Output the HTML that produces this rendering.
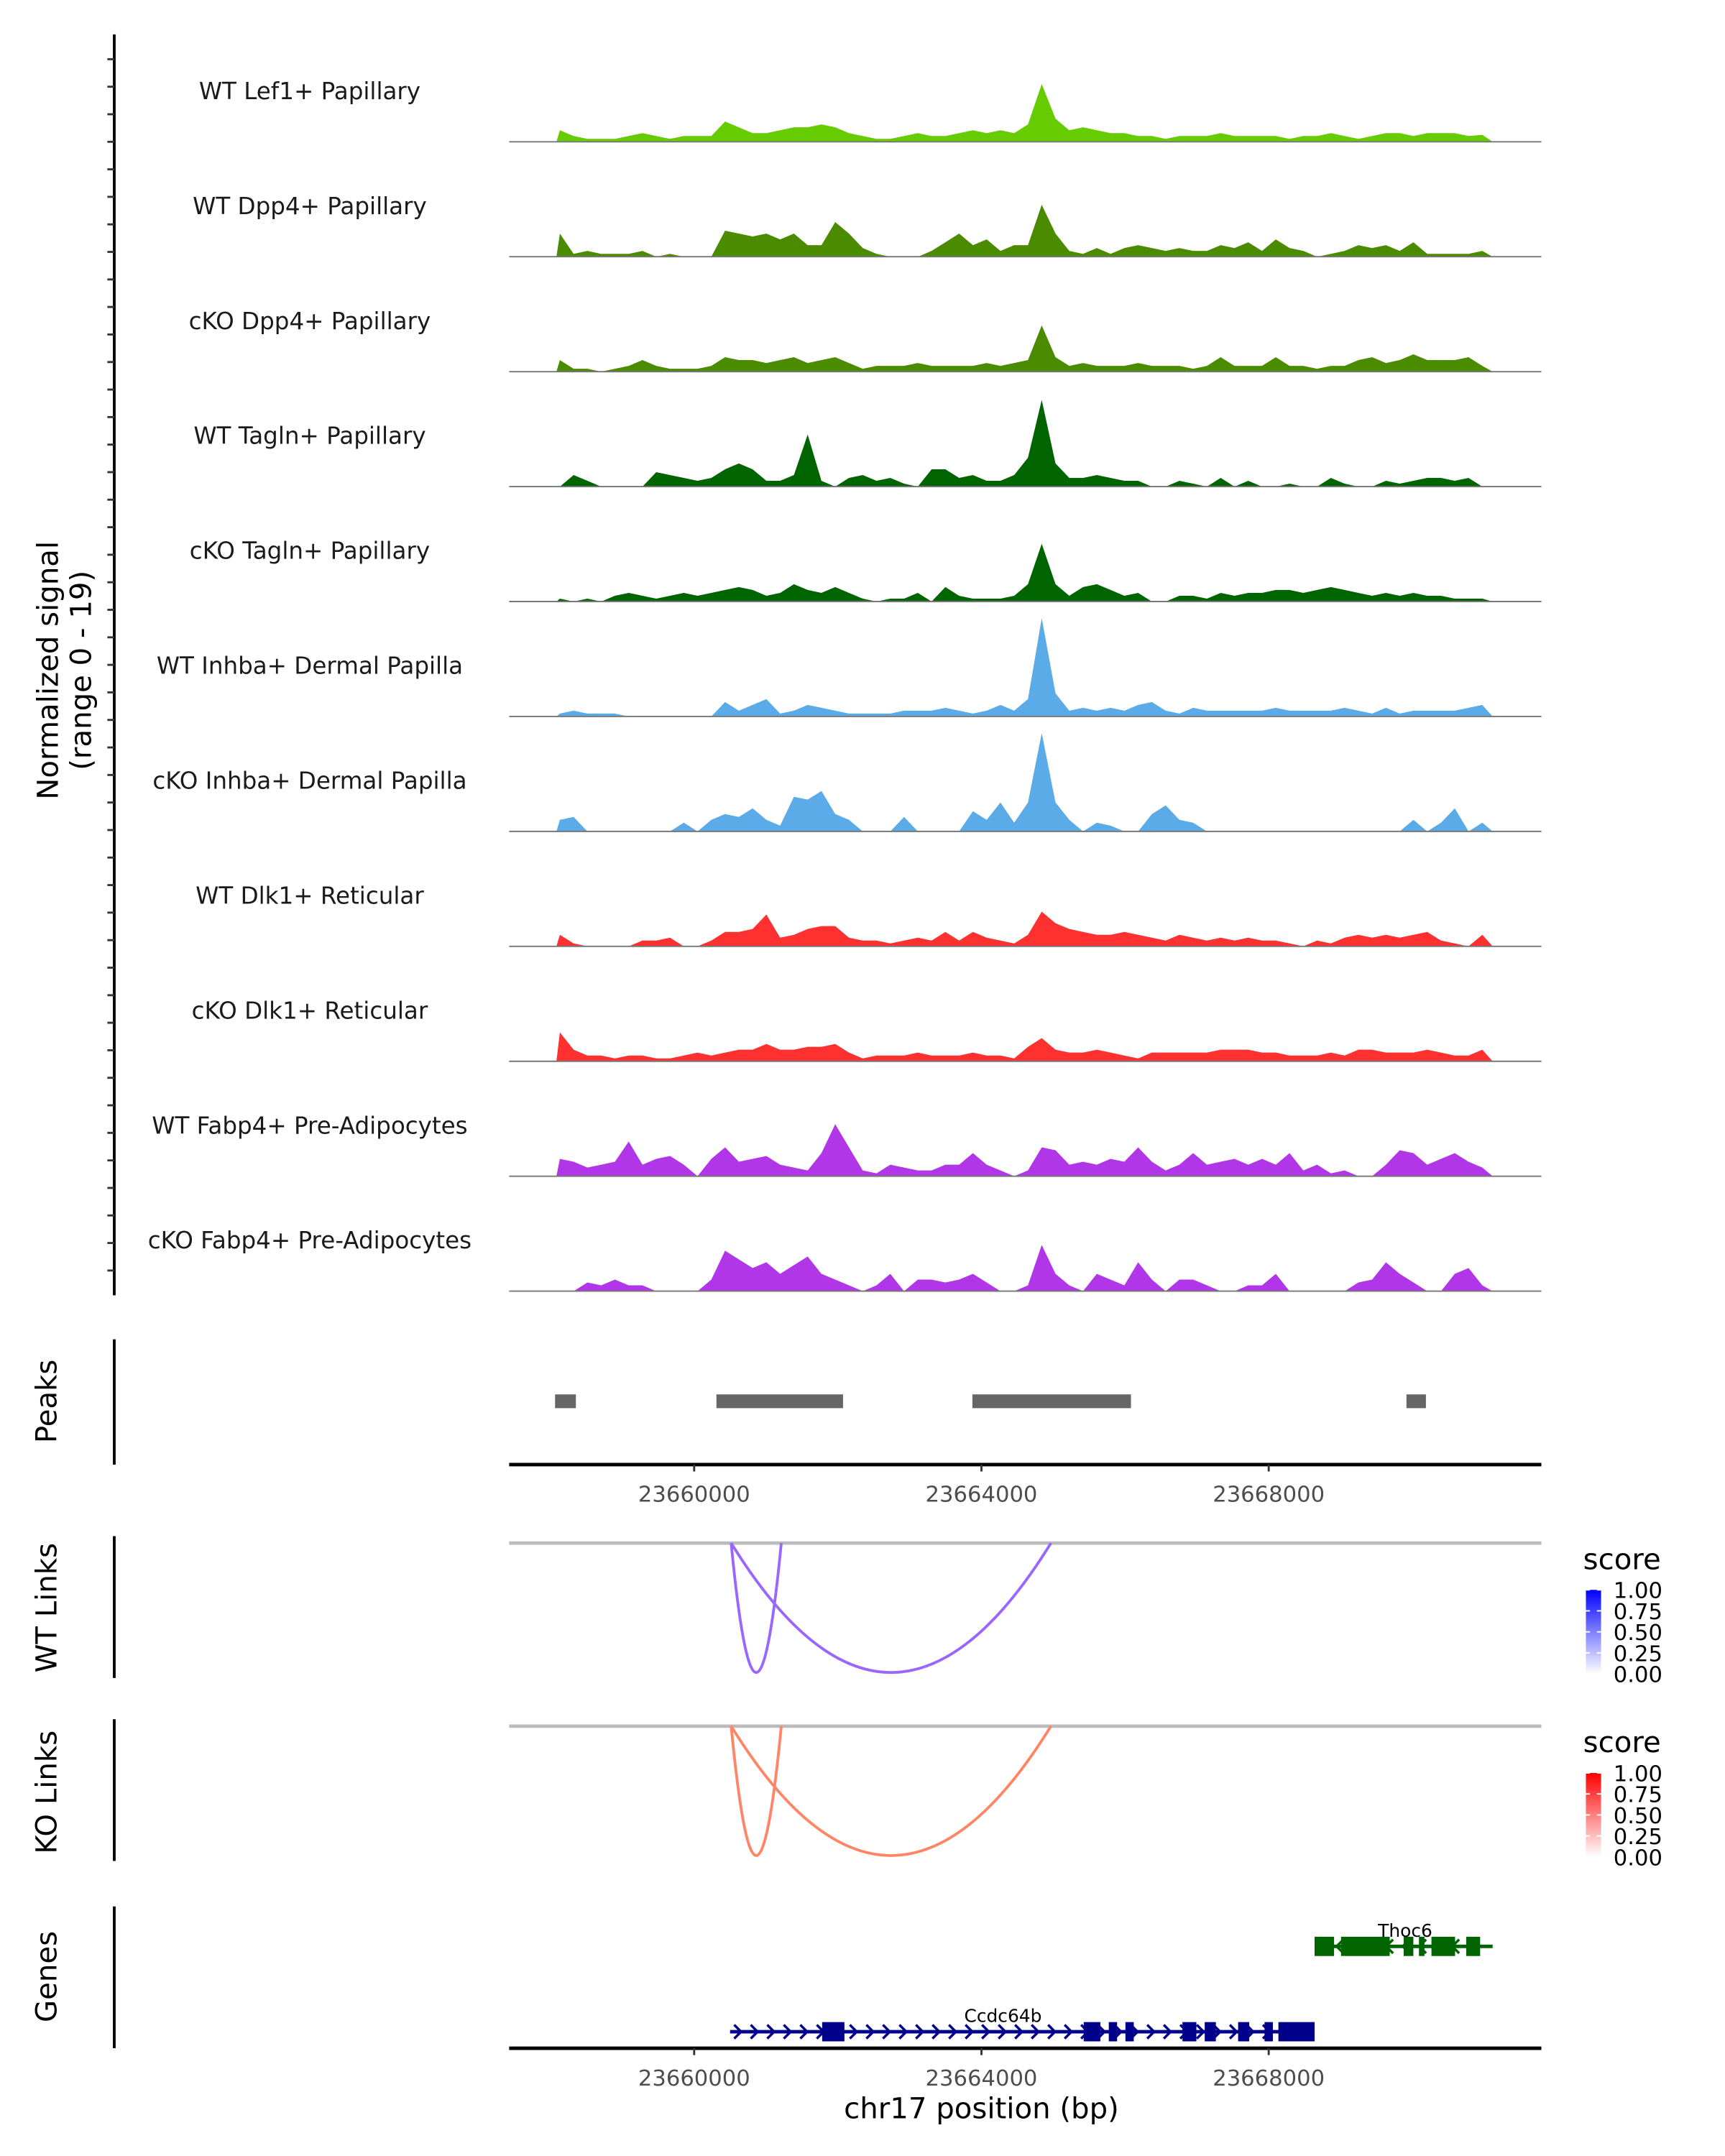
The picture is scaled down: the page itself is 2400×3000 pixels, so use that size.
<!DOCTYPE html>
<html><head><meta charset="utf-8"><style>
html,body{margin:0;padding:0;background:#fff}
svg{display:block}
text{font-family:"DejaVu Sans","Liberation Sans",sans-serif}
</style></head><body>
<svg id="chart" width="2400" height="3000" viewBox="0 0 1240 1550" xmlns="http://www.w3.org/2000/svg">
<defs>
<linearGradient id="gradBlue" x1="0" y1="1" x2="0" y2="0"><stop offset="0" stop-color="#ffffff"/><stop offset="1" stop-color="#0000ff"/></linearGradient>
<linearGradient id="gradRed" x1="0" y1="1" x2="0" y2="0"><stop offset="0" stop-color="#ffffff"/><stop offset="1" stop-color="#ff0000"/></linearGradient>
</defs>
<g id="root" transform="scale(0.9896)">
<g id="tracks"></g>
<g id="peaks"></g>
<g id="links"></g>
<g id="genes"></g>
<text transform="translate(42,487) rotate(-90)" text-anchor="middle" font-size="21" fill="#000">Normalized signal</text>
<text transform="translate(66,487) rotate(-90)" text-anchor="middle" font-size="21" fill="#000">(range 0 - 19)</text>
<text transform="translate(41,1018) rotate(-90)" text-anchor="middle" font-size="21">Peaks</text>
<text transform="translate(41,1168) rotate(-90)" text-anchor="middle" font-size="21">WT Links</text>
<text transform="translate(41,1302) rotate(-90)" text-anchor="middle" font-size="21">KO Links</text>
<text transform="translate(41,1436) rotate(-90)" text-anchor="middle" font-size="21">Genes</text>
<text id="xtitle" x="741" y="1539" text-anchor="middle" font-size="21">chr17 position (bp)</text>
</g>
</svg>
<script>
const NS='http://www.w3.org/2000/svg';
const trackNames=["WT Lef1+ Papillary","WT Dpp4+ Papillary","cKO Dpp4+ Papillary","WT Tagln+ Papillary","cKO Tagln+ Papillary","WT Inhba+ Dermal Papilla","cKO Inhba+ Dermal Papilla","WT Dlk1+ Reticular","cKO Dlk1+ Reticular","WT Fabp4+ Pre-Adipocytes","cKO Fabp4+ Pre-Adipocytes"];
const trackColors=["#66cc00","#4b8b00","#4b8b00","#006400","#006400","#5aabe8","#5aabe8","#ff3030","#ff3030","#b036e8","#b036e8"];
const sigLef1WT=[2,1,0.5,0.5,0.5,1,1.5,1,0.5,1,1,1,3.5,2.5,1.5,1.5,2,2.5,2.5,3,2.5,1.5,1,0.5,0.5,1,1.5,1,1,1.5,2,1.5,2,1.5,3,10,4,2,2.5,2,1.5,1.5,1,1,0.5,1,1,1,1.5,1,1,1,1,0.5,1,1,1.5,1,0.5,1,1.5,1.5,1,1.5,1.5,1.5,1,1.2];
const sigDpp4WT=[4,0.5,1,0.5,0.5,0.5,1,0,0.5,0,0,0,4.5,4,3.5,4,3,4,2,2,6,4,1.5,0.5,0,0,0,1,2.5,4,2,3,1,2,2,9,4,1,0.5,1.5,0.5,1.5,2,1.5,1,1.5,1,1,2,1.5,2.5,1,3,1.5,1,0,0.5,1,2,1.5,2,1,2.5,0.5,0.5,0.5,0.5,1];
const sigDpp4KO=[2,0.5,0.5,0,0.5,1,2,1,0.5,0.5,0.5,1,2.5,2,2,1.5,2,2.5,1.5,2,2.5,1.5,0.5,1,1,1,1.5,1,1,1,1,1.5,1,1.5,2,8,2.5,1,1.5,1,1,1,1.5,1,1,1,0.5,1,2.5,1,1,1,2.5,1,1,0.5,1,1,2,2.5,1.5,2,3,2,2,2,2.5,1];
const sigTaglnWT=[0,2,1,0,0,0,0,2.5,2,1.5,1,1.5,3,4,3,1,1,2,9,1,0,1.5,2,1,1.5,0.5,0,3,3,1.5,2,1,1,2,5,15,4,1.5,1.5,2,1.5,1,1,0,0,1,0.5,0,1.5,0,1,0,0,0.5,0,0,1.5,0.5,0,0,1,0.5,1,1.5,1.5,1,1.5,0];
const sigTaglnKO=[0.5,0,0.5,0,1,1.5,1,0.5,1,1.5,1,1.5,2,2.5,2,1,1.5,3,2,1.5,2.5,1.5,0.5,0,0.5,0.5,1.5,0,2.5,1,0.5,0.5,0.5,1,3,10,3,1,2.5,3,2,1,1.5,0,0,1,1,0.5,1.5,1,1.5,1.5,2,2,1.5,2,2.5,2,1.5,1,1.5,1,1.5,1,1,0.5,0.5,0.5];
const sigInhbaWT=[0.5,1,0.5,0.5,0.5,0,0,0,0,0,0,0,2.5,1,2,3,0.5,1,2,1.5,1,0.5,0.5,0.5,0.5,1,1,1,1.5,1,0.5,1,2,1,3,17,4,1,1.5,1,1.5,1,2,2.5,1,0.5,1.5,1,1,1,1,1,1.5,1,1,1,1,1.5,1,0.5,1.5,0.5,1,1,1,1,1.5,2];
const sigInhbaKO=[2,2.5,0,0,0,0,0,0,0,1.5,0,2,3,2.5,4,2,1,6,5.5,7,3,2,0,0,0,2.5,0,0,0,0,3.5,2,5,1.5,5,17,5,2,0,1.5,1,0,0,3,4.5,2,1.5,0,0,0,0,0,0,0,0,0,0,0,0,0,0,0,2,0,1.5,4,0,1.5];
const sigDlk1WT=[2,0.5,0,0,0,0,1,1,1.5,0,0,1,2.5,2.5,3,5.5,1.5,2,3,3.5,3.5,1.5,1,1,0.5,1,1.5,1,2.5,1,2.5,1.5,1,0.5,2,6,4,3,2.5,2,2,2.5,2,1.5,1,2,1.5,1,1.5,1,1.5,1,1,0.5,0,1,0.5,1.5,2,1.5,2,1.5,2,2.5,1,0.5,0,2];
const sigDlk1KO=[5,2,1,1,0.5,1,1,0.5,0.5,1,1.5,1,1.5,2,2,3,2,2,2.5,2.5,3,1.5,0.5,1,1,1,1.5,1,1,1,1.5,1,1,0.5,2.5,4,2,1.5,1.5,2,1.5,1,0.5,1.5,1.5,1.5,1.5,1.5,2,2,2,1.5,1.5,1,1,1,1.5,1,2,2,1.5,1.5,1.5,2,1.5,1,1,2];
const sigFabp4WT=[3,2.5,1.5,2,2.5,6,2,3,3.5,2,0,3,5,2.5,3,3.5,2,1.5,1,4,9,5,1,0.5,2,1.5,1,1,2,2,4,2,1,0,1,5,4.5,2,2.5,2,3,2.5,5,2.5,1,2,4,2,2.5,3,2,3,2,4,1,2,0.5,1,0,0,2,4.5,4,2,3,4,2.5,1.5];
const sigFabp4KO=[0,0,1.5,1,2,1,1,0,0,0,0,2,7,5.5,4,5,3,4.5,6,3,2,1,0,1,3,0,2,2,1.5,2,3,1.5,0,0,1,8,3,1,0,3,2,1,5,2,0,2,2,1,0,0,1,1,3,0,0,0,0,0,1.5,2,5,3,1.5,0,0,3,4,1];
const signals=[sigLef1WT,sigDpp4WT,sigDpp4KO,sigTaglnWT,sigTaglnKO,sigInhbaWT,sigInhbaKO,sigDlk1WT,sigDlk1KO,sigFabp4WT,sigFabp4KO];
const regionStart=23658082, regionEnd=23671118;
const xTicks=[23660000,23664000,23668000];
const peakStarts=[23658063,23660310,23663874,23669918];
const peakEnds=[23658353,23662073,23666082,23670189];
const linkStarts=[23660515,23660515];
const linkEnds=[23661213,23664968];
const linkScores=[0.6,0.6];
const exonsCcdcS=[23661782,23665424,23665773,23666005,23666799,23667109,23667574,23667942,23668135];
const exonsCcdcE=[23662092,23665656,23665889,23666121,23666993,23667264,23667729,23668058,23668639];
const exonsThocS=[23668639,23669007,23669879,23670092,23670266,23670750];
const exonsThocE=[23668910,23669685,23670014,23670169,23670595,23670944];
const maxSignal=19;

const S=0.9896;
const X=p=>(499+(p-23660000)*(206.5/4000))/S;
const AX0=366/S, AX1=1108/S;
const pxPerUnit=4.2;
const svg=document.getElementById('chart');
function mk(tag,attrs,parent){const e=document.createElementNS(NS,tag);for(const k in attrs)e.setAttribute(k,attrs[k]);(parent||svg).appendChild(e);return e;}
document.getElementById('xtitle').setAttribute('x',X(23664000));

const tg=document.getElementById('tracks');
mk('line',{x1:83,y1:25,x2:83,y2:941,stroke:'#000','stroke-width':2},tg);
for(let y=43;y<=941;y+=20.0){mk('line',{x1:78,y1:y,x2:83,y2:y,stroke:'#333','stroke-width':1.5},tg);}
signals.forEach((arr,k)=>{
  const base=103+k*83.5;
  const x0=X(regionStart),x1=X(regionEnd);
  const bw=(x1-x0)/arr.length;
  let d=`M${x0},${base}`;
  arr.forEach((v,i)=>{const y=base-v*pxPerUnit;d+=` L${x0+(i+0.25)*bw},${y}`;});
  d+=` L${x1},${base} Z`;
  const p=mk('path',{d:d,fill:trackColors[k]},tg);
  
  
  const bl=mk('line',{x1:AX0,y1:base,x2:AX1,y2:base,stroke:'#777','stroke-width':1},tg);
  
  
  const t=mk('text',{x:225,y:base-31,'text-anchor':'middle','font-size':17,fill:'#1a1a1a'},tg);
  t.textContent=trackNames[k];
  
  
});

function xAxis(g,y){
  mk('line',{x1:AX0,y1:y,x2:AX1,y2:y,stroke:'#000','stroke-width':2.5},g);
  xTicks.forEach(v=>{
    mk('line',{x1:X(v),y1:y,x2:X(v),y2:y+5,stroke:'#333','stroke-width':1.5},g);
    const t=mk('text',{x:X(v),y:y+27,'text-anchor':'middle','font-size':16,fill:'#4d4d4d'},g);
    t.textContent=v;
    
    
  });
}
const pg=document.getElementById('peaks');
mk('line',{x1:83,y1:973,x2:83,y2:1064,stroke:'#000','stroke-width':2},pg);
peakStarts.forEach((s,i)=>{
  const r=mk('rect',{x:X(s),y:1013,width:X(peakEnds[i])-X(s),height:10,fill:'#666'},pg);
  
  
});
xAxis(pg,1064);

const lg=document.getElementById('links');
function linkPanel(top,col,grad){
  mk('line',{x1:83,y1:top-5,x2:83,y2:top+98,stroke:'#000','stroke-width':2},lg);
  mk('line',{x1:AX0,y1:top,x2:AX1,y2:top,stroke:'#bbb','stroke-width':2.5},lg);
  linkStarts.forEach((s,i)=>{
    const xa=X(s),xb=X(linkEnds[i]);const depth=94*linkScores[i]/0.6;
    const c=top+2*depth;
    const p=mk('path',{d:`M${xa},${top} Q${(xa+xb)/2},${c} ${xb},${top}`,fill:'none',stroke:col,'stroke-width':2},lg);
    
    
  });
  const t=mk('text',{x:1150,y:top+19,'font-size':21,fill:'#000'},lg);t.textContent='score';
  
  
  const cb=mk('rect',{x:1152,y:top+34,width:11,height:61,fill:`url(#${grad})`},lg);
  
  
  ['1.00','0.75','0.50','0.25','0.00'].forEach((s,i)=>{
    const y=top+34+i*15.25;
    mk('line',{x1:1152,y1:y,x2:1155,y2:y,stroke:'#fff'},lg);
    mk('line',{x1:1160,y1:y,x2:1163,y2:y,stroke:'#fff'},lg);
    const l=mk('text',{x:1172,y:y+6,'font-size':16,fill:'#000'},lg);l.textContent=s;
    
    
  });
}
linkPanel(1121,'#9966ff','gradBlue');
linkPanel(1254,'#ff8566','gradRed');

const gg=document.getElementById('genes');
mk('line',{x1:83,y1:1385,x2:83,y2:1488,stroke:'#000','stroke-width':2},gg);
function gene(y,s,e,es,ee,col,dir,name,lx){
  mk('line',{x1:X(s),y1:y,x2:X(e),y2:y,stroke:col,'stroke-width':2.5},gg);
  for(let x=X(s)+6;x<X(e)-4;x+=12){
    const d=dir>0?`M${x-3},${y-5} L${x+2},${y} L${x-3},${y+5}`:`M${x+3},${y-5} L${x-2},${y} L${x+3},${y+5}`;
    mk('path',{d:d,fill:'none',stroke:col,'stroke-width':1.8},gg);
  }
  es.forEach((a,i)=>{const r=mk('rect',{x:X(a),y:y-7,width:X(ee[i])-X(a),height:14,fill:col},gg);
    
    });
  const t=mk('text',{x:lx,y:y-7,'text-anchor':'middle','font-size':13,fill:'#000'},gg);t.textContent=name;
  
  
}
gene(1476,23660500,23668639,exonsCcdcS,exonsCcdcE,'#00008b',1,'Ccdc64b',X(23664300));
gene(1414,23668639,23671118,exonsThocS,exonsThocE,'#006400',-1,'Thoc6',X(23669900));
xAxis(gg,1488);
</script>
</body></html>
